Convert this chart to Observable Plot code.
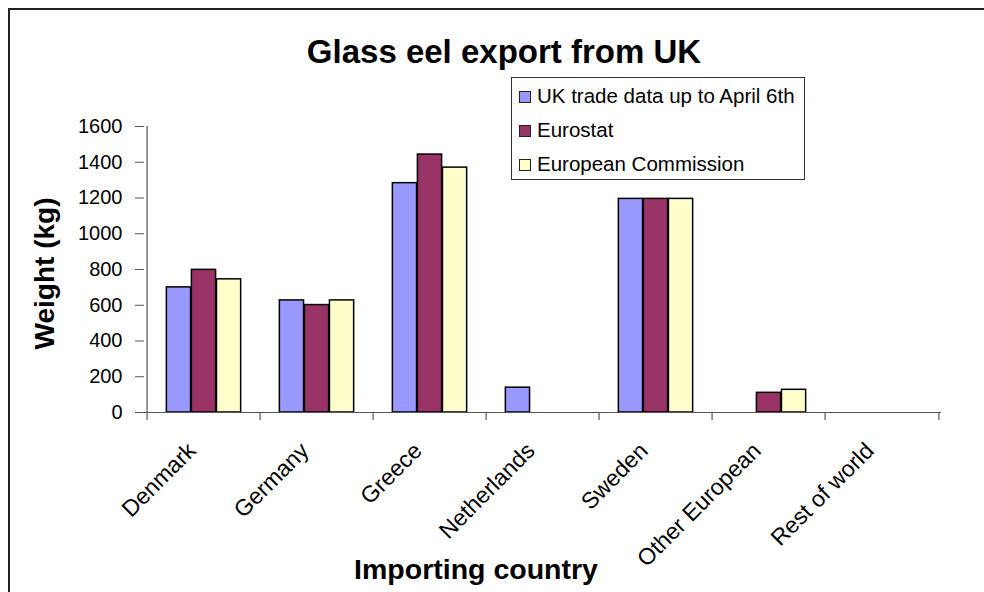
<!DOCTYPE html>
<html><head><meta charset="utf-8">
<script src="https://cdn.jsdelivr.net/npm/d3@7"></script>
<script src="https://cdn.jsdelivr.net/npm/@observablehq/plot@0.6"></script>
<style>
body{margin:0;background:#fff;font-family:"Liberation Sans",Arial,sans-serif;}
#wrap{position:relative;width:984px;height:592px;overflow:hidden;background:#fff;}
#frame{position:absolute;left:8px;top:8px;width:1000px;height:620px;border:2px solid #222;box-sizing:border-box;}
#chart{position:absolute;left:0;top:0;}
#title{position:absolute;top:35px;left:504px;transform:translateX(-50%);font-weight:bold;font-size:33px;line-height:33px;white-space:nowrap;color:#000;}
#legend{position:absolute;left:511px;top:77px;width:294px;height:103px;border:1px solid #333;box-sizing:border-box;background:#fff;padding-top:1px;}
.row{height:34px;line-height:34px;font-size:20.5px;white-space:nowrap;position:relative;padding-left:25px;color:#000;}
.sw{position:absolute;left:7px;top:12px;width:12px;height:12px;border:1px solid #222;box-sizing:border-box;}
</style>
</head><body>
<div id="wrap">
  <div id="frame"></div>
  <div id="chart"></div>
  <div id="title"></div>
  <div id="legend"></div>
</div>
<script>
const titleText = "Glass eel export from UK";
const yTitle = "Weight (kg)";
const xTitle = "Importing country";
const countries = ["Denmark", "Germany", "Greece", "Netherlands", "Sweden", "Other European", "Rest of world"];
const seriesNames = ["UK trade data up to April 6th", "Eurostat", "European Commission"];
const seriesColors = ["#9999FF", "#993366", "#FFFFCC"];
const ukTrade = [700, 627, 1283, 139, 1195, null, null];
const eurostat = [798, 601, 1443, null, 1195, 110, null];
const europeanCommission = [745, 627, 1370, null, 1195, 127, null];
const yTicks = [0, 200, 400, 600, 800, 1000, 1200, 1400, 1600];

const width = 984, height = 592, mL = 144, mR = 43, mT = 126, mB = 180;
const bw = (width - mL - mR) / countries.length;
const barW = bw * 0.22;
const tickLen = 8 * (yTicks[yTicks.length - 1] - yTicks[0]) / (height - mT - mB);
const seriesValues = [ukTrade, eurostat, europeanCommission];

const marks = [];
seriesValues.forEach((vals, k) => {
  const data = countries.map((c, i) => ({country: c, value: vals[i]})).filter(d => d.value != null);
  marks.push(Plot.barY(data, {
    x: "country", y1: 0, y2: "value",
    fill: seriesColors[k], stroke: "#000", strokeWidth: 1.5,
    dx: (k - 1) * barW, insetLeft: (bw - barW) / 2, insetRight: (bw - barW) / 2
  }));
});
marks.push(Plot.ruleY([0], {stroke: "#555", strokeWidth: 1.2}));
marks.push(Plot.ruleX([countries[0]], {x: d => d, y1: 0, y2: yTicks[yTicks.length - 1], dx: -bw / 2, stroke: "#555", strokeWidth: 1.2}));
marks.push(Plot.ruleX(countries, {x: d => d, y1: 0, y2: -tickLen, dx: -bw / 2, stroke: "#555", strokeWidth: 1.2}));
marks.push(Plot.ruleX([countries[countries.length - 1]], {x: d => d, y1: 0, y2: -tickLen, dx: bw / 2, stroke: "#555", strokeWidth: 1.2}));
marks.push(Plot.axisY(yTicks, {tickSize: 9, tickPadding: 13, fontSize: 20, stroke: "#555", fill: "#000", label: null, tickFormat: d => String(d)}));
marks.push(Plot.text(countries, {x: d => d, frameAnchor: "bottom", text: d => d, rotate: -45, textAnchor: "end", lineAnchor: "middle", dx: -12, dy: 34.5, fontSize: 23, fill: "#000"}));
marks.push(Plot.text([yTitle], {frameAnchor: "left", text: d => d, rotate: -90, textAnchor: "middle", lineAnchor: "middle", dx: -99, dy: 4, fontSize: 28, fontWeight: "bold", fill: "#000"}));
marks.push(Plot.text([xTitle], {frameAnchor: "bottom", text: d => d, textAnchor: "middle", lineAnchor: "middle", dx: -67, dy: 157, fontSize: 28.5, fontWeight: "bold", fill: "#000"}));

const chart = Plot.plot({
  width, height,
  marginLeft: mL, marginRight: mR, marginTop: mT, marginBottom: mB,
  x: {type: "band", domain: countries, padding: 0, axis: null},
  y: {domain: [yTicks[0], yTicks[yTicks.length - 1]]},
  style: {fontFamily: "'Liberation Sans', Arial, sans-serif", fontSize: "20px", background: "transparent", color: "#000", overflow: "visible"},
  marks
});
document.getElementById("chart").appendChild(chart);
document.getElementById("title").textContent = titleText;
const legend = document.getElementById("legend");
seriesNames.forEach((name, k) => {
  const row = document.createElement("div");
  row.className = "row";
  const sw = document.createElement("span");
  sw.className = "sw";
  sw.style.background = seriesColors[k];
  row.appendChild(sw);
  row.appendChild(document.createTextNode(name));
  legend.appendChild(row);
});
</script>
</body></html>
